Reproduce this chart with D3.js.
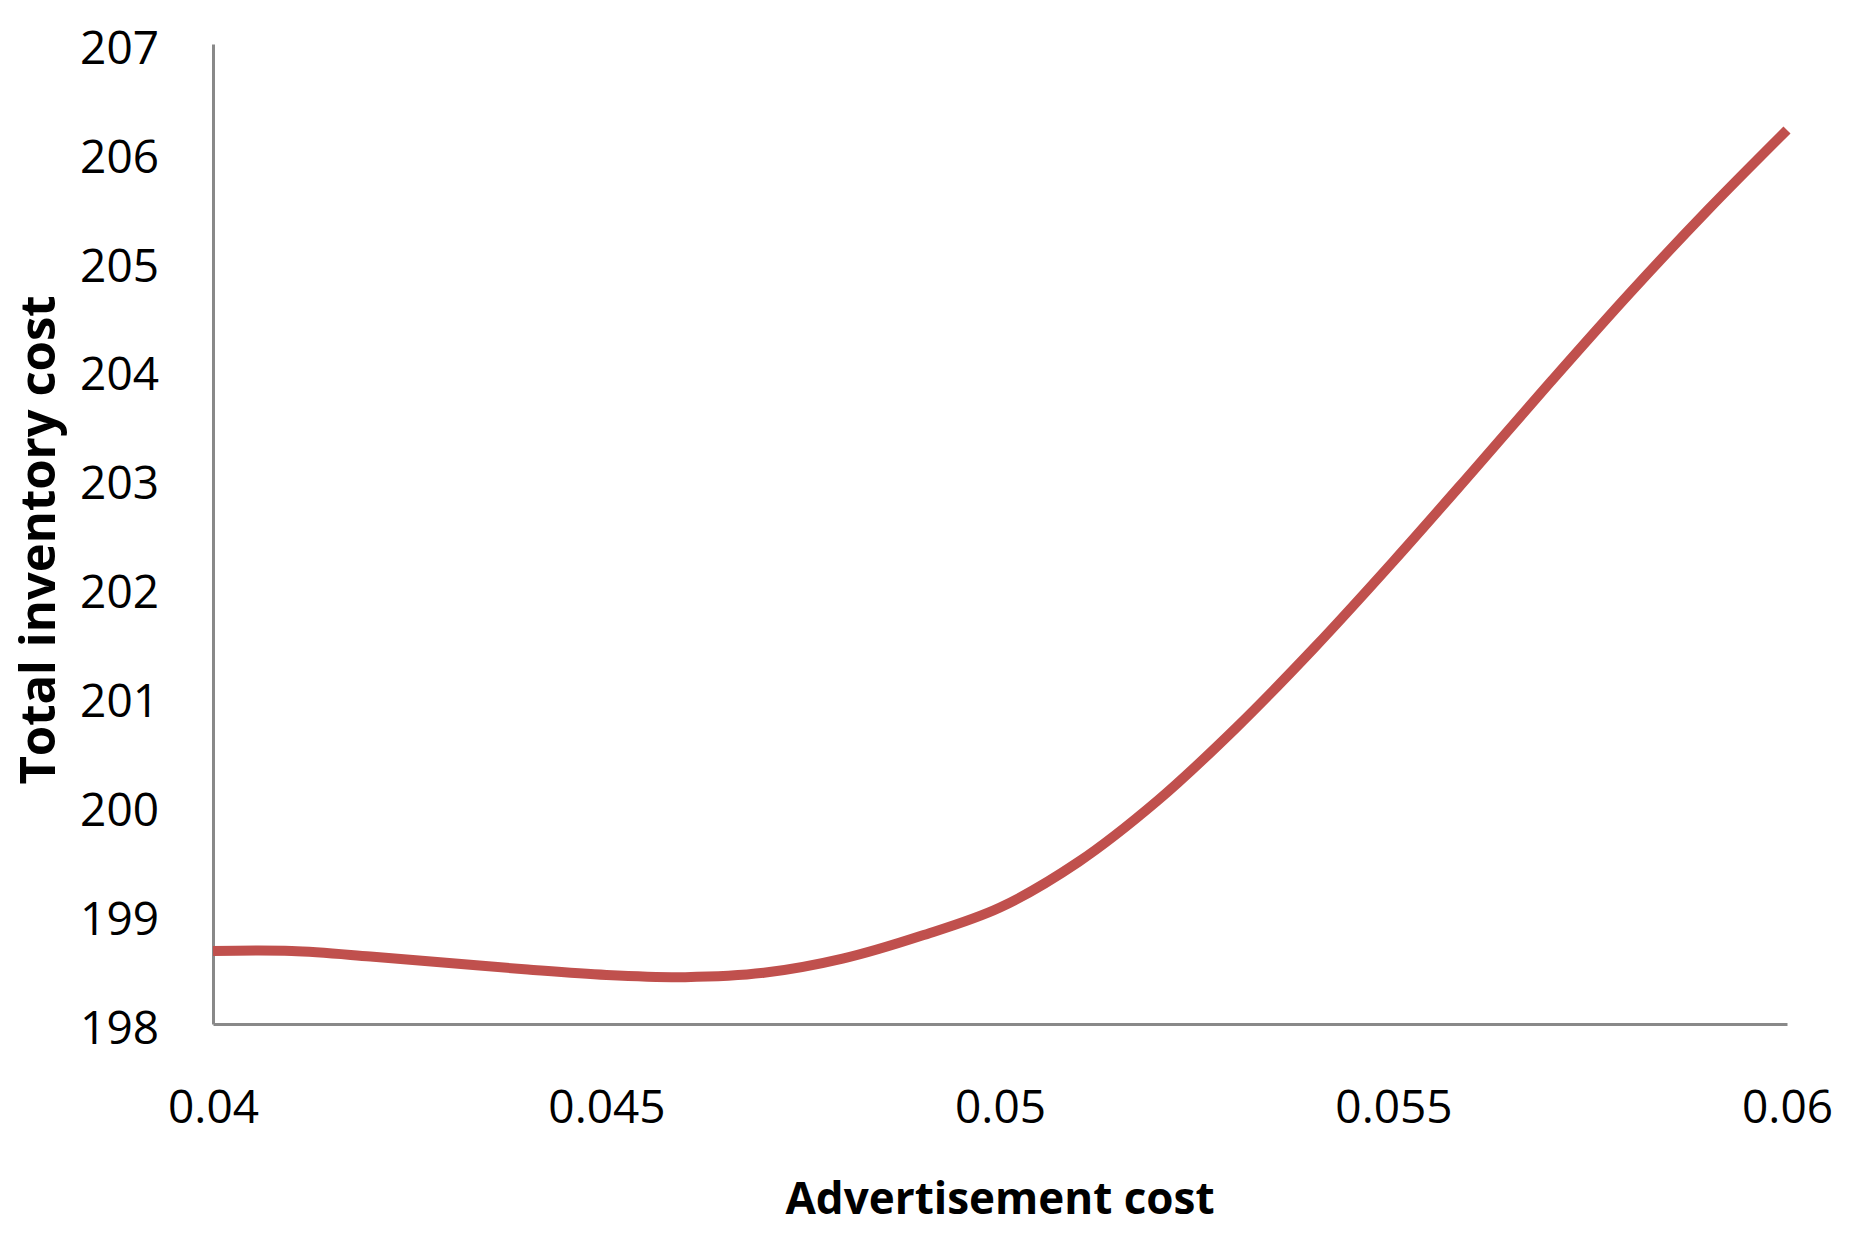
<!DOCTYPE html>
<html>
<head>
<meta charset="utf-8">
<script src="https://cdn.jsdelivr.net/npm/d3@7"></script>
<style>
  body { margin: 0; background: #fff; }
  svg { display: block; font-family: "Open Sans", "Noto Sans", sans-serif; }
  .axis path { stroke: #898989; stroke-width: 3; }
  .axis text { fill: #000; font-size: 46px; }
  .axis-label { font-weight: bold; font-size: 44px; fill: #000; }
  .y.axis-label { font-size: 49px; }
</style>
</head>
<body>
<svg id="chart"></svg>
<script>
const CHART_SIZE = { width: 1858, height: 1239 };
const MARGIN = { left: 213, right: 71, top: 44, bottom: 215 };
const WIDTH = CHART_SIZE.width - (MARGIN.left + MARGIN.right);
const HEIGHT = CHART_SIZE.height - (MARGIN.top + MARGIN.bottom);

// advertisement cost (x) and total inventory cost (y)
const adCost = [0.040, 0.041, 0.042, 0.043, 0.044, 0.045, 0.046, 0.047, 0.048, 0.049, 0.050,
                0.051, 0.052, 0.053, 0.054, 0.055, 0.056, 0.057, 0.058, 0.059, 0.060];
const totalCost = [198.67, 198.67, 198.62, 198.56, 198.50, 198.45, 198.43, 198.47, 198.60, 198.81, 199.07,
                   199.49, 200.05, 200.72, 201.46, 202.25, 203.07, 203.90, 204.71, 205.48, 206.21];

const xTicks = [0.04, 0.045, 0.05, 0.055, 0.06];
const yTicks = [198, 199, 200, 201, 202, 203, 204, 205, 206, 207];

const xTitle = "Advertisement cost";
const yTitle = "Total inventory cost";

const svg = d3.select("#chart")
  .attr("width", CHART_SIZE.width)
  .attr("height", CHART_SIZE.height);

const g = svg.append("g")
  .attr("transform", `translate(${MARGIN.left},${MARGIN.top})`);

const x = d3.scaleLinear().domain([0.04, 0.06]).range([0, WIDTH]);
const y = d3.scaleLinear().domain([198, 207]).range([HEIGHT, 0]);

g.append("g")
  .attr("class", "axis y-axis")
  .call(d3.axisLeft(y).tickValues(yTicks).tickSize(0).tickPadding(54).tickFormat(d3.format("d")))
  .call(a => a.selectAll("text").attr("dy", "0.42em"));

g.append("g")
  .attr("class", "axis x-axis")
  .attr("transform", `translate(0,${HEIGHT})`)
  .call(d3.axisBottom(x).tickValues(xTicks).tickSize(0).tickPadding(66).tickFormat(d => String(+d.toFixed(3))));

g.selectAll(".axis").attr("font-family", null).attr("font-size", null);

const points = adCost.map((c, i) => ({ c, v: totalCost[i] }));

const line = d3.line()
  .x(d => x(d.c))
  .y(d => y(d.v))
  .curve(d3.curveCatmullRom.alpha(0.5));

g.append("path")
  .attr("class", "cost")
  .attr("d", line(points))
  .attr("fill", "none")
  .attr("stroke", "#C0504D")
  .attr("stroke-width", 10);

g.append("text")
  .attr("class", "x axis-label")
  .attr("x", WIDTH / 2)
  .attr("y", HEIGHT + 190)
  .attr("text-anchor", "middle")
  .text(xTitle);

g.append("text")
  .attr("class", "y axis-label")
  .attr("transform", `translate(${-MARGIN.left + 55},${HEIGHT / 2 + 6}) rotate(-90)`)
  .attr("text-anchor", "middle")
  .text(yTitle);
</script>
</body>
</html>
